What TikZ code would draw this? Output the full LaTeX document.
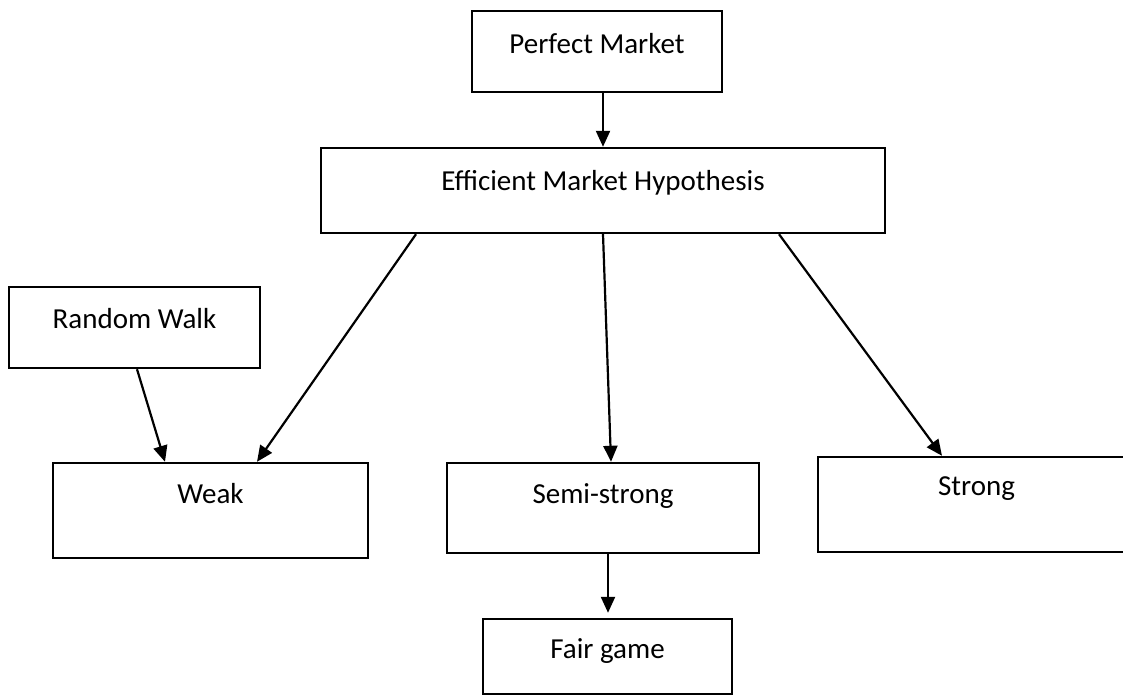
\documentclass[tikz,border=0pt]{standalone}
\usepackage{fontspec}
\setmainfont{Carlito}
\usetikzlibrary{arrows.meta,calc}
\tikzset{
  box/.style={draw=black, line width=2.4pt, rectangle, inner sep=0pt},
  lbl/.style={font=\fontsize{29}{35}\selectfont, text height=18.7pt, text depth=0pt, inner sep=0pt},
  arr/.style={draw=black, line width=2.2pt, -{Triangle[length=16pt,width=14pt]}}
}
\begin{document}
\begin{tikzpicture}[x=1pt,y=-1pt]
\useasboundingbox (0,0) rectangle (1123,695);
\clip (0,0) rectangle (1123,695);
\node[box, minimum width=250pt, minimum height=81pt,
  label={[lbl, name=pmt, yshift=7.5pt]center:Perfect Market}] (pm) at (597,51.5) {};
\node[box, minimum width=564pt, minimum height=85pt,
  label={[lbl, name=emht, yshift=9.5pt]center:Efficient Market Hypothesis}] (emh) at (603,190.5) {};
\node[box, minimum width=251pt, minimum height=81pt,
  label={[lbl, name=rwt, yshift=8.8pt]center:Random Walk}] (rw) at (134.5,327.5) {};
\node[box, minimum width=315pt, minimum height=95pt,
  label={[lbl, name=weakt, yshift=16.7pt]center:Weak}] (weak) at (210.5,510.5) {};
\node[box, minimum width=312pt, minimum height=90pt,
  label={[lbl, name=semit, yshift=14pt]center:Semi-strong}] (semi) at (603,508) {};
\node[box, minimum width=317pt, minimum height=95pt,
  label={[lbl, name=strongt, yshift=18.2pt]center:Strong}] (strong) at (976.5,504.5) {};
\node[box, minimum width=249pt, minimum height=75pt,
  label={[lbl, name=fairt, yshift=7.5pt]center:Fair game}] (fair) at (607.5,656.5) {};

\draw[arr] ([xshift=6pt]pm.south) -- (emh.north);
\draw[arr] ([xshift=-187pt]emh.south) -- ([xshift=46.5pt]weak.north);
\draw[arr] ([xshift=2.5pt]rw.south) -- ([xshift=-45.5pt]weak.north);
\draw[arr] (emh.south) -- ([xshift=8pt]semi.north);
\draw[arr] ([xshift=176pt]emh.south) -- ([xshift=-34.5pt]strong.north);
\draw[arr] ([xshift=5pt]semi.south) -- ([xshift=0.5pt,yshift=5pt]fair.north);
\end{tikzpicture}
\end{document}
